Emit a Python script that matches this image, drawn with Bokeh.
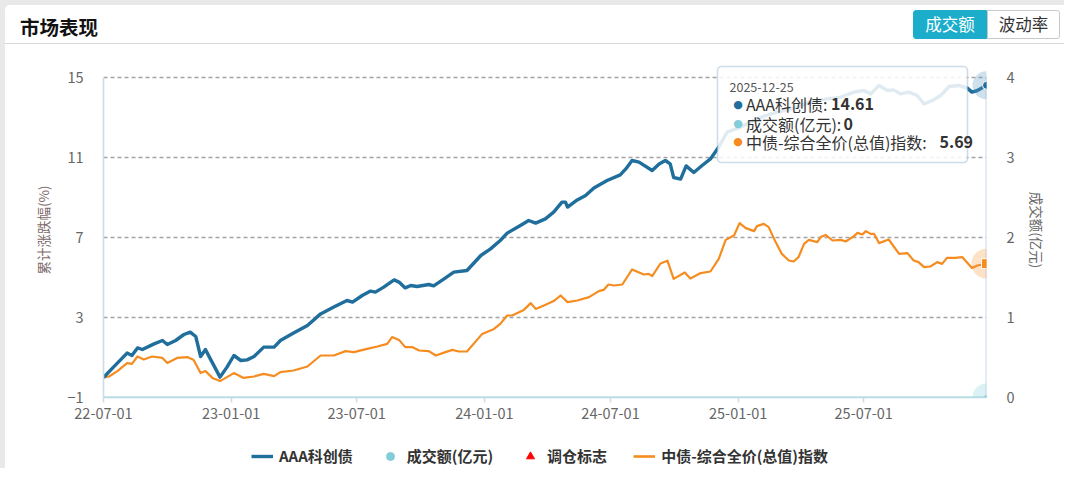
import pandas as pd
from bokeh.plotting import figure
from bokeh.models import (Range1d, LinearAxis, FixedTicker, DatetimeTickFormatter, Legend,
                          LegendItem, Label, BoxAnnotation, ColumnDataSource, Div)
from bokeh.layouts import column
from bokeh.embed import file_html
from bokeh.resources import INLINE

FONT = "Noto Sans CJK SC"

# ---------------- data ----------------
title_text = "市场表现"
button_labels = ["成交额", "波动率"]
series_names = ["AAA科创债", "成交额(亿元)", "调仓标志", "中债-综合全价(总值)指数"]
left_axis_title = "累计涨跌幅(%)"
right_axis_title = "成交额(亿元)"
left_ticks = [-1, 3, 7, 11, 15]
right_ticks = [0, 1, 2, 3, 4]
x_tick_dates = ["2022-07-01", "2023-01-01", "2023-07-01", "2024-01-01",
                "2024-07-01", "2025-01-01", "2025-07-01"]
tooltip_date = "2025-12-25"

aaa_dates = [
    "2022-07-01", "2022-07-15", "2022-08-04", "2022-08-11", "2022-08-19", "2022-08-26",
    "2022-09-12", "2022-09-24", "2022-10-01", "2022-10-13", "2022-10-25", "2022-11-03",
    "2022-11-11", "2022-11-18", "2022-11-25", "2022-12-02", "2022-12-16", "2022-12-26",
    "2023-01-05", "2023-01-15", "2023-01-24", "2023-02-03", "2023-02-17", "2023-03-04",
    "2023-03-13", "2023-04-01", "2023-04-21", "2023-05-10", "2023-05-29", "2023-06-17",
    "2023-06-25", "2023-07-09", "2023-07-21", "2023-07-28", "2023-08-09", "2023-08-24",
    "2023-08-31", "2023-09-09", "2023-09-17", "2023-09-26", "2023-10-13", "2023-10-20",
    "2023-11-04", "2023-11-18", "2023-12-07", "2023-12-27", "2024-01-10", "2024-01-24",
    "2024-02-03", "2024-02-22", "2024-03-05", "2024-03-15", "2024-03-29", "2024-04-10",
    "2024-04-22", "2024-04-27", "2024-04-30", "2024-05-14", "2024-05-26", "2024-06-07",
    "2024-06-26", "2024-07-15", "2024-07-23", "2024-08-01", "2024-08-11", "2024-08-30",
    "2024-09-09", "2024-09-18", "2024-09-25", "2024-09-30", "2024-10-10", "2024-10-18",
    "2024-10-29", "2024-11-10", "2024-11-22", "2024-12-04", "2024-12-16", "2025-01-04",
    "2025-01-28", "2025-02-17", "2025-03-08", "2025-03-27", "2025-04-15", "2025-05-09",
    "2025-05-29", "2025-06-17", "2025-07-01", "2025-07-11", "2025-07-23", "2025-08-04",
    "2025-08-13", "2025-08-23", "2025-09-04", "2025-09-16", "2025-09-26", "2025-10-08",
    "2025-10-20", "2025-11-01", "2025-11-15", "2025-11-27", "2025-12-04", "2025-12-12",
    "2025-12-25"]
aaa_values = [
    0.00, 0.51, 1.22, 1.10, 1.48, 1.40,
    1.68, 1.85, 1.65, 1.85, 2.15, 2.27,
    2.05, 1.05, 1.40, 0.93, 0.02, 0.52,
    1.10, 0.85, 0.88, 1.05, 1.52, 1.52,
    1.85, 2.22, 2.60, 3.18, 3.52, 3.85,
    3.77, 4.10, 4.32, 4.27, 4.52, 4.88,
    4.77, 4.48, 4.60, 4.55, 4.65, 4.58,
    4.93, 5.27, 5.35, 6.10, 6.43, 6.85,
    7.22, 7.60, 7.85, 7.72, 7.93, 8.27,
    8.77, 8.77, 8.52, 8.88, 9.10, 9.48,
    9.85, 10.13, 10.43, 10.85, 10.77, 10.35,
    10.68, 10.85, 10.68, 10.00, 9.92, 10.58,
    10.25, 10.60, 10.93, 11.52, 12.27, 12.52,
    12.93, 13.18, 13.35, 13.52, 13.77, 13.93,
    14.02, 14.27, 14.35, 14.18, 14.60, 14.35,
    14.38, 14.18, 14.27, 14.10, 13.68, 13.85,
    14.10, 14.55, 14.60, 14.48, 14.27, 14.35,
    14.61]

idx_dates = [
    "2022-07-01", "2022-07-09", "2022-07-21", "2022-08-04", "2022-08-11", "2022-08-19",
    "2022-08-28", "2022-09-09", "2022-09-24", "2022-10-01", "2022-10-15", "2022-10-30",
    "2022-11-08", "2022-11-18", "2022-11-25", "2022-12-05", "2022-12-16", "2022-12-26",
    "2023-01-05", "2023-01-19", "2023-02-03", "2023-02-17", "2023-03-04", "2023-03-13",
    "2023-04-01", "2023-04-21", "2023-05-10", "2023-05-29", "2023-06-15", "2023-06-27",
    "2023-07-16", "2023-07-31", "2023-08-14", "2023-08-21", "2023-08-31", "2023-09-09",
    "2023-09-19", "2023-09-29", "2023-10-13", "2023-10-23", "2023-11-06", "2023-11-16",
    "2023-11-25", "2023-12-07", "2023-12-29", "2024-01-15", "2024-01-24", "2024-02-03",
    "2024-02-10", "2024-02-27", "2024-03-08", "2024-03-15", "2024-03-27", "2024-04-10",
    "2024-04-20", "2024-04-30", "2024-05-14", "2024-05-31", "2024-06-14", "2024-06-21",
    "2024-06-28", "2024-07-06", "2024-07-18", "2024-08-01", "2024-08-18", "2024-08-25",
    "2024-08-30", "2024-09-11", "2024-09-21", "2024-09-30", "2024-10-16", "2024-10-24",
    "2024-11-08", "2024-11-22", "2024-12-04", "2024-12-14", "2024-12-26", "2025-01-03",
    "2025-01-12", "2025-01-24", "2025-01-28", "2025-02-07", "2025-02-14", "2025-02-24",
    "2025-03-05", "2025-03-15", "2025-03-22", "2025-03-29", "2025-04-06", "2025-04-13",
    "2025-04-25", "2025-04-30", "2025-05-07", "2025-05-17", "2025-05-29", "2025-06-05",
    "2025-06-17", "2025-06-22", "2025-06-29", "2025-07-04", "2025-07-11", "2025-07-16",
    "2025-07-23", "2025-08-06", "2025-08-21", "2025-09-02", "2025-09-11", "2025-09-18",
    "2025-09-26", "2025-10-05", "2025-10-15", "2025-10-22", "2025-10-29", "2025-11-10",
    "2025-11-20", "2025-12-04", "2025-12-12", "2025-12-25"]
idx_values = [
    0.00, 0.05, 0.32, 0.72, 0.68, 1.05,
    0.90, 1.05, 0.98, 0.73, 0.98, 1.02,
    0.88, 0.22, 0.32, -0.02, -0.18, 0.02,
    0.22, -0.02, 0.05, 0.18, 0.07, 0.27,
    0.35, 0.55, 1.10, 1.10, 1.32, 1.27,
    1.43, 1.55, 1.68, 2.02, 1.88, 1.52,
    1.52, 1.35, 1.32, 1.10, 1.27, 1.38,
    1.30, 1.30, 2.18, 2.43, 2.68, 3.10,
    3.10, 3.38, 3.72, 3.43, 3.60, 3.82,
    4.10, 3.77, 3.85, 4.02, 4.32, 4.38,
    4.65, 4.60, 4.65, 5.40, 5.15, 5.18,
    5.07, 5.70, 5.84, 4.93, 5.25, 4.95,
    5.22, 5.30, 5.93, 6.88, 7.10, 7.72,
    7.47, 7.32, 7.57, 7.68, 7.52, 6.77,
    6.18, 5.85, 5.80, 6.02, 6.68, 6.88,
    6.77, 7.02, 7.13, 6.85, 6.88, 6.80,
    7.07, 7.23, 7.15, 7.32, 7.18, 7.18,
    6.72, 6.90, 6.18, 6.22, 5.85, 5.77,
    5.52, 5.55, 5.77, 5.68, 5.98, 5.98,
    6.02, 5.48, 5.60, 5.69]

vol_dates = ["2022-07-01", "2025-12-25"]
vol_values = [0, 0]
rebalance_dates = []
rebalance_values = []

# ---------------- styles ----------------
C_AAA = "#1f6e9c"
C_VOL = "#82cdd8"
C_IDX = "#f68c1f"
C_REB = "#ff0000"
C_AXIS = "#cddbe8"
C_TEXT = "#666666"
PAGE_BG = "#e9e9e9"
PAD = 5                  # gray page gutter around the white card
W = 1064 - PAD           # width of the card content
WHITE = {"background-color": "#ffffff"}

# ---------------- header (title + switch buttons) ----------------
header_html = f"""
<div style="position:relative;width:{W}px;height:39px;background:#fff;border-radius:5px 0 0 0;
     font-family:'{FONT}';">
  <div style="position:absolute;left:15px;top:11px;height:21px;line-height:21px;
       font-size:19.5px;font-weight:bold;color:#111;white-space:nowrap;">{title_text}</div>
  <div style="position:absolute;left:908px;top:5px;width:74px;height:29px;box-sizing:border-box;
       background:#1badca;border:1px solid #1badca;border-radius:3px 0 0 3px;color:#fff;
       font-size:16.5px;line-height:26px;text-align:center;">{button_labels[0]}</div>
  <div style="position:absolute;left:982px;top:5px;width:73px;height:29px;box-sizing:border-box;
       background:#fff;border:1px solid #c9c9c9;border-radius:0 3px 3px 0;color:#333;
       font-size:16.5px;line-height:26px;text-align:center;">{button_labels[1]}</div>
  <div style="position:absolute;left:0px;top:38px;width:{W}px;height:1px;background:#d9d9d9;"></div>
</div>
"""
header = Div(text=header_html, width=W, height=39, margin=(PAD, 0, 0, PAD))

# ---------------- main chart ----------------
x_start = pd.Timestamp(aaa_dates[0])
x_end = pd.Timestamp(aaa_dates[-1])
p = figure(width=W, height=385, x_axis_type="datetime", output_backend="svg",
           toolbar_location=None, x_range=Range1d(x_start, x_end),
           y_range=Range1d(-1, 15.75), margin=(0, 0, 0, PAD), styles=WHITE,
           min_border_left=98, min_border_right=78, min_border_top=18, min_border_bottom=32)
p.extra_y_ranges = {"vol": Range1d(0, 4.1875)}
p.outline_line_color = None
p.xgrid.visible = False

p.ygrid.ticker = FixedTicker(ticks=left_ticks)
p.ygrid.grid_line_color = "#a3a3a3"
p.ygrid.grid_line_dash = "4 3"
p.ygrid.grid_line_width = 1.3

yl = p.yaxis[0]
yl.ticker = FixedTicker(ticks=left_ticks)
yl.bounds = (left_ticks[0], left_ticks[-1])
yl.axis_label = left_axis_title
yl.axis_label_text_font = FONT
yl.axis_label_text_font_size = "13.5px"
yl.axis_label_text_font_style = "normal"
yl.axis_label_text_color = "#7d6a6a"
yl.axis_label_standoff = 11
yl.major_label_text_font = FONT
yl.major_label_text_font_size = "14.5px"
yl.major_label_text_color = C_TEXT
yl.major_label_standoff = 20
yl.major_tick_out = 0
yl.major_tick_in = 0
yl.minor_tick_out = 0
yl.minor_tick_in = 0
yl.axis_line_color = C_AXIS
yl.axis_line_width = 1.6

yr = LinearAxis(y_range_name="vol", ticker=FixedTicker(ticks=right_ticks),
                bounds=(right_ticks[0], right_ticks[-1]), axis_label=right_axis_title)
yr.axis_label_text_font = FONT
yr.axis_label_text_font_size = "13.5px"
yr.axis_label_text_font_style = "normal"
yr.axis_label_text_color = C_TEXT
yr.axis_label_standoff = 9
yr.major_label_text_font = FONT
yr.major_label_text_font_size = "14.5px"
yr.major_label_text_color = C_TEXT
yr.major_label_standoff = 20
yr.major_tick_out = 0
yr.major_tick_in = 0
yr.minor_tick_out = 0
yr.minor_tick_in = 0
yr.axis_line_color = None
p.add_layout(yr, "right")

xa = p.xaxis[0]
xa.ticker = FixedTicker(ticks=[pd.Timestamp(d).value // 10**6 for d in x_tick_dates])
fmt = "%y-%m-%d"
xa.formatter = DatetimeTickFormatter(days=fmt, months=fmt, years=fmt, hours=fmt,
                                     hourmin=fmt, minutes=fmt, minsec=fmt,
                                     seconds=fmt, milliseconds=fmt)
xa.major_label_text_font = FONT
xa.major_label_text_font_size = "14.5px"
xa.major_label_text_color = C_TEXT
xa.major_label_standoff = 5
xa.major_tick_out = 5
xa.major_tick_in = 0
xa.major_tick_line_color = C_AXIS
xa.major_tick_line_width = 1.5
xa.minor_tick_out = 0
xa.minor_tick_in = 0
xa.axis_line_color = "#b9d9e2"
xa.axis_line_width = 1.5

src_aaa = ColumnDataSource(dict(x=pd.to_datetime(aaa_dates), y=aaa_values))
src_idx = ColumnDataSource(dict(x=pd.to_datetime(idx_dates), y=idx_values))
src_vol = ColumnDataSource(dict(x=pd.to_datetime(vol_dates), y=vol_values))
src_reb = ColumnDataSource(dict(x=pd.to_datetime(rebalance_dates), y=rebalance_values))

p.line("x", "y", source=src_vol, y_range_name="vol", line_color=C_VOL,
       line_width=2, line_alpha=0.7)
p.scatter("x", "y", source=src_reb, marker="triangle", size=14,
          fill_color=C_REB, line_color=C_REB)

last_x = x_end
# axis pointer of the tooltip
p.segment(x0=[last_x], x1=[last_x], y0=[left_ticks[0]], y1=[left_ticks[-1]],
          line_color="#c9dbeb", line_width=2)

p.line("x", "y", source=src_idx, line_color=C_IDX, line_width=2.2, line_join="round")
p.line("x", "y", source=src_aaa, line_color=C_AAA, line_width=3.4, line_join="round")

# emphasised end points
p.scatter(x=[last_x], y=[vol_values[-1]], y_range_name="vol", size=28,
          fill_color=C_VOL, fill_alpha=0.28, line_color=None)
p.scatter(x=[last_x], y=[vol_values[-1]], y_range_name="vol", size=5,
          fill_color=C_VOL, line_color=None)
p.scatter(x=[last_x], y=[idx_values[-1]], size=30, fill_color=C_IDX,
          fill_alpha=0.25, line_color=None)
p.scatter(x=[last_x], y=[idx_values[-1]], marker="square", size=10, fill_color=C_IDX,
          line_color="white", line_width=1)
p.scatter(x=[last_x], y=[aaa_values[-1]], size=28, fill_color="#5d9dc4",
          fill_alpha=0.3, line_color=None)
p.scatter(x=[last_x], y=[aaa_values[-1]], size=8, fill_color=C_AAA,
          line_color="white", line_width=1)

# tooltip (frame-relative screen units)
p.add_layout(BoxAnnotation(left=614, right=864, bottom=235, top=331,
                           left_units="screen", right_units="screen",
                           top_units="screen", bottom_units="screen",
                           fill_color="white", fill_alpha=0.86,
                           line_color="#5a90b8", line_width=1.6, border_radius=4))
p.add_layout(Label(x=626, y=311, x_units="screen", y_units="screen", text=tooltip_date,
                   text_font=FONT, text_font_size="12.5px", text_color="#555555",
                   text_baseline="middle"))
row_y = [293.5, 274, 256]
row_vals = [f"{aaa_values[-1]:.2f}", f"{vol_values[-1]:.0f}", f"{idx_values[-1]:.2f}"]
row_names = [series_names[0], series_names[1], series_names[3]]
row_cols = [C_AAA, C_VOL, C_IDX]
val_x = [727.5, 740, 836]
for yy, nm, vv, cc, vx in zip(row_y, row_names, row_vals, row_cols, val_x):
    p.add_layout(Label(x=634.5, y=yy, x_units="screen", y_units="screen", text="●",
                       text_font="DejaVu Sans", text_font_size="11px", text_color=cc,
                       text_align="center", text_baseline="middle"))
    p.add_layout(Label(x=642.5, y=yy, x_units="screen", y_units="screen", text=nm + ":",
                       text_font=FONT, text_font_size="16px", text_color="#333333",
                       text_baseline="middle"))
    p.add_layout(Label(x=vx, y=yy, x_units="screen", y_units="screen", text=vv,
                       text_font=FONT, text_font_size="16px", text_font_style="bold",
                       text_color="#333333", text_baseline="middle"))

# ---------------- legend strip ----------------
lg = figure(width=W, height=39, output_backend="svg", toolbar_location=None,
            x_range=Range1d(0, 1), y_range=Range1d(0, 1), margin=(0, 0, 0, PAD),
            styles=WHITE,
            min_border_left=98, min_border_right=78, min_border_top=0, min_border_bottom=0,
            x_axis_location=None, y_axis_location=None)
lg.outline_line_color = None
lg.grid.visible = False
nan = float("nan")
g_aaa = lg.line(x=[nan], y=[nan], line_color=C_AAA, line_width=3.4)
g_vol = lg.scatter(x=[nan], y=[nan], marker="circle", size=14, fill_color=C_VOL,
                   line_color=C_VOL)
g_reb = lg.scatter(x=[nan], y=[nan], marker="triangle", size=14, fill_color=C_REB,
                   line_color=C_REB)
g_idx = lg.line(x=[nan], y=[nan], line_color=C_IDX, line_width=2.6)
legend = Legend(items=[LegendItem(label=series_names[0], renderers=[g_aaa]),
                       LegendItem(label=series_names[1], renderers=[g_vol]),
                       LegendItem(label=series_names[2], renderers=[g_reb]),
                       LegendItem(label=series_names[3], renderers=[g_idx])],
                orientation="horizontal", location=(148, 2),
                label_text_font=FONT, label_text_font_size="15px",
                label_text_font_style="bold", label_text_color="#333333",
                glyph_width=22, glyph_height=20, spacing=26, label_standoff=6,
                padding=0, border_line_color=None, background_fill_alpha=0)
lg.add_layout(legend)

layout = column(header, p, lg, styles={"background-color": PAGE_BG})
open("out.html", "w").write(file_html(layout, INLINE))
